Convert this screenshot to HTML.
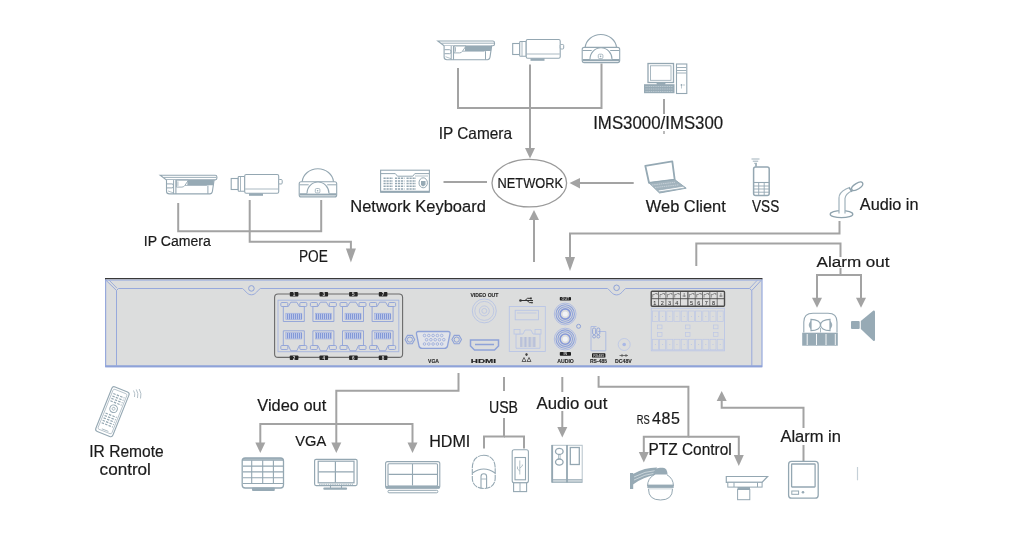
<!DOCTYPE html>
<html><head><meta charset="utf-8">
<style>
html,body{margin:0;padding:0;background:#fff;width:1010px;height:558px;overflow:hidden}
svg{display:block;position:absolute;left:0;top:0;will-change:transform}
text{font-family:"Liberation Sans",sans-serif;fill:#1a1a1a;stroke:#1a1a1a;stroke-width:0.2}
.ln{stroke:#a3a3a3;stroke-width:2;fill:none}
.ah{fill:#a3a3a3}
</style></head><body>
<svg width="1010" height="558" viewBox="0 0 1010 558">
<!-- connector lines -->
<g class="ln">
<!-- top IP cameras -->
<path d="M458 68V108H601.5V63.5"/>
<path d="M530 64.5V150"/>
<path d="M664 99V114"/><path d="M664 131V134" stroke-width="1.5"/>
<!-- keyboard to network -->
<path d="M443.5 182H487"/>
<path d="M580 183H633.7"/>
<path d="M534 218V262"/>
<!-- left IP cameras -->
<path d="M178.2 203V231.2H321.2V200"/>
<path d="M249.7 200V241.8H350.9V250"/>
<!-- audio in -->
<path d="M839.5 221V233.5H570V258"/>
<!-- alarm out -->
<path d="M696.3 266V243.5H840.5V257"/>
<path d="M840.5 268V275H817V298"/>
<path d="M840.5 275H861V298"/>
<!-- video out -->
<path d="M458.5 373V390.7H336.3V443"/>
<path d="M260.3 443V423.9H412.5V443"/>
<!-- usb -->
<path d="M504 377V391"/>
<path d="M504 418V436.4H484V448.5"/>
<path d="M504 436.4H524V448.5"/>
<!-- audio out -->
<path d="M562.3 377V392"/>
<path d="M562.3 411V428"/>
<!-- rs485 -->
<path d="M598.6 376V386.8H688.4V436.8H643.8V453"/>
<path d="M688.4 436.8H738.8V456"/>
<!-- alarm in -->
<path d="M803.5 445V461"/>
<path d="M803.5 428V407.8H721.7V400"/>
</g>
<g class="ah">
<polygon points="525,148 535,148 530,158.5"/>
<polygon points="580,178 580,188.5 569.5,183"/>
<polygon points="529,220 539,220 534,210"/>
<polygon points="345.9,248.5 355.9,248.5 350.9,262.5"/>
<polygon points="565,257 575,257 570,271"/>
<polygon points="812,297.8 822,297.8 817,307.8"/>
<polygon points="856,297.8 866,297.8 861,307.8"/>
<polygon points="255.3,442.5 265.3,442.5 260.3,453"/>
<polygon points="331.3,442.5 341.3,442.5 336.3,453"/>
<polygon points="407.5,442.5 417.5,442.5 412.5,453"/>
<polygon points="557.3,427 567.3,427 562.3,437.6"/>
<polygon points="638.8,452 648.8,452 643.8,462.5"/>
<polygon points="733.8,455 743.8,455 738.8,466"/>
<polygon points="716.7,401 726.7,401 721.7,391"/>
</g>
<ellipse cx="529.3" cy="183.1" rx="37.3" ry="23.8" fill="none" stroke="#9a9a9a" stroke-width="1.3"/>
<!-- texts -->
<g>
<text x="438.7" y="139.3" font-size="16.5" textLength="73.3" lengthAdjust="spacingAndGlyphs">IP Camera</text>
<text x="593.2" y="129" font-size="17.5" textLength="130" lengthAdjust="spacingAndGlyphs">IMS3000/IMS300</text>
<text x="497.5" y="188.4" font-size="14.8" textLength="65.5" lengthAdjust="spacingAndGlyphs">NETWORK</text>
<text x="350.3" y="211.7" font-size="16.3" textLength="135.5" lengthAdjust="spacingAndGlyphs">Network Keyboard</text>
<text x="645.8" y="211.5" font-size="16" textLength="80" lengthAdjust="spacingAndGlyphs">Web Client</text>
<text x="752" y="212.1" font-size="16" textLength="27.2" lengthAdjust="spacingAndGlyphs">VSS</text>
<text x="859.8" y="210.2" font-size="16" textLength="58.7" lengthAdjust="spacingAndGlyphs">Audio in</text>
<text x="143.8" y="245.9" font-size="14.7" textLength="67" lengthAdjust="spacingAndGlyphs">IP Camera</text>
<text x="299" y="262.3" font-size="16.5" textLength="28.9" lengthAdjust="spacingAndGlyphs">POE</text>
<text x="816.6" y="267" font-size="15.5" textLength="73" lengthAdjust="spacingAndGlyphs">Alarm out</text>
<text x="257.3" y="411.3" font-size="16" textLength="68.9" lengthAdjust="spacingAndGlyphs">Video out</text>
<text x="489" y="412.9" font-size="17" textLength="29" lengthAdjust="spacingAndGlyphs">USB</text>
<text x="536.5" y="409" font-size="16.2" textLength="70.8" lengthAdjust="spacingAndGlyphs">Audio out</text>
<text x="636.8" y="424.3" font-size="12.3" textLength="13" lengthAdjust="spacingAndGlyphs">RS</text>
<text x="652" y="424.3" font-size="16" textLength="28" lengthAdjust="spacing">485</text>
<text x="295.3" y="446.1" font-size="15.5" textLength="30.9" lengthAdjust="spacingAndGlyphs">VGA</text>
<text x="429.2" y="447.3" font-size="16.5" textLength="41.1" lengthAdjust="spacingAndGlyphs">HDMI</text>
<text x="648.5" y="455.4" font-size="17" textLength="83.2" lengthAdjust="spacingAndGlyphs">PTZ Control</text>
<text x="780.4" y="442.3" font-size="16.3" textLength="60.6" lengthAdjust="spacingAndGlyphs">Alarm in</text>
<text x="89.3" y="456.9" font-size="16.5" textLength="74.4" lengthAdjust="spacingAndGlyphs">IR Remote</text>
<text x="99.6" y="474.6" font-size="16.5" textLength="51.3" lengthAdjust="spacingAndGlyphs">control</text>
</g>
<!-- NVR box -->
<g id="nvr">
<defs><pattern id="stripes" width="1.3" height="10" patternUnits="userSpaceOnUse"><rect x="0" y="0" width="0.75" height="10" fill="#8296d4"/></pattern></defs>
<rect x="105.5" y="278.5" width="656.5" height="88" fill="#dcdddd"/>
<path d="M105.6 279V366.6H762V279" fill="none" stroke="#97a9dc" stroke-width="1.2"/>
<path d="M105.5 366.3H762" stroke="#8ea2d8" stroke-width="2"/>
<path d="M105 278.6H762.5" stroke="#383838" stroke-width="1.4"/>
<path d="M106 280.2H761.5" stroke="#a3b3e0" stroke-width="1"/>
<path d="M116.5 366V290.5L106 280.3M116.5 290.5L118.5 288.5H242.5C245 290 247 294.8 251.4 294.8C255.8 294.8 257.8 290 260.3 288.5H607.5C610 290 612 294.9 616.6 294.9C621.2 294.9 623.2 290 625.7 288.5H749.5L751.8 290.5V366M751.8 290.5L761 280.5" fill="none" stroke="#97a9dc" stroke-width="1"/>
<path d="M109.5 280.5L117 288.2M757 280.5L749.6 288.3" fill="none" stroke="#8ea2d8" stroke-width="0.8"/>
<circle cx="251.4" cy="288.4" r="2.8" fill="none" stroke="#8ea2d8" stroke-width="1"/>
<circle cx="616.6" cy="287.8" r="2.8" fill="none" stroke="#8ea2d8" stroke-width="1"/>
<rect x="274.6" y="294" width="128" height="63.4" rx="3.5" fill="none" stroke="#6a6a6a" stroke-width="1.1"/>
<rect x="278" y="300.2" width="120.8" height="51.5" fill="none" stroke="#a9b8e0" stroke-width="1"/>
<rect x="289.8" y="292.0" width="8.6" height="4.5" rx="0.8" fill="#252525"/><text x="294.1" y="296.0" font-size="4.6" text-anchor="middle" style="fill:#ddd;stroke:none;font-weight:bold">1</text>
<rect x="289.8" y="355.5" width="8.6" height="4.5" rx="0.8" fill="#252525"/><text x="294.1" y="359.5" font-size="4.6" text-anchor="middle" style="fill:#ddd;stroke:none;font-weight:bold">2</text>
<path d="M283.3 306.5V321.5H304.3V306.5 M283.3 306.5H288.3L290.8 302.2H296.8L299.3 306.5H304.3" fill="none" stroke="#8ea2d8" stroke-width="0.9"/>
<rect x="280.8" y="302.5" width="7" height="4" rx="1" fill="#dcdddd" stroke="#8ea2d8" stroke-width="0.9"/>
<rect x="299.8" y="302.5" width="7" height="4" rx="1" fill="#dcdddd" stroke="#8ea2d8" stroke-width="0.9"/>
<rect x="285.8" y="313.2" width="16.0" height="6.5" fill="#c3cdea" stroke="#97a8dc" stroke-width="0.5"/><path d="M287.5 313.7V319.2M289.5 313.7V319.2M291.5 313.7V319.2M293.5 313.7V319.2M295.5 313.7V319.2M297.5 313.7V319.2M299.5 313.7V319.2M301.5 313.7V319.2" stroke="#8398d6" stroke-width="1.1"/>
<path d="M283.3 345.5V330.8H304.3V345.5 M283.3 345.5H288.3L290.8 350.8H296.8L299.3 345.5H304.3" fill="none" stroke="#8ea2d8" stroke-width="0.9"/>
<rect x="280.8" y="345.5" width="7" height="4" rx="1" fill="#dcdddd" stroke="#8ea2d8" stroke-width="0.9"/>
<rect x="299.8" y="345.5" width="7" height="4" rx="1" fill="#dcdddd" stroke="#8ea2d8" stroke-width="0.9"/>
<rect x="285.8" y="332.5" width="16.0" height="6.5" fill="#c3cdea" stroke="#97a8dc" stroke-width="0.5"/><path d="M287.5 333.0V338.5M289.5 333.0V338.5M291.5 333.0V338.5M293.5 333.0V338.5M295.5 333.0V338.5M297.5 333.0V338.5M299.5 333.0V338.5M301.5 333.0V338.5" stroke="#8398d6" stroke-width="1.1"/>
<rect x="319.5" y="292.0" width="8.6" height="4.5" rx="0.8" fill="#252525"/><text x="323.8" y="296.0" font-size="4.6" text-anchor="middle" style="fill:#ddd;stroke:none;font-weight:bold">3</text>
<rect x="319.5" y="355.5" width="8.6" height="4.5" rx="0.8" fill="#252525"/><text x="323.8" y="359.5" font-size="4.6" text-anchor="middle" style="fill:#ddd;stroke:none;font-weight:bold">4</text>
<path d="M312.9 306.5V321.5H333.9V306.5 M312.9 306.5H317.9L320.4 302.2H326.4L328.9 306.5H333.9" fill="none" stroke="#8ea2d8" stroke-width="0.9"/>
<rect x="310.4" y="302.5" width="7" height="4" rx="1" fill="#dcdddd" stroke="#8ea2d8" stroke-width="0.9"/>
<rect x="329.4" y="302.5" width="7" height="4" rx="1" fill="#dcdddd" stroke="#8ea2d8" stroke-width="0.9"/>
<rect x="315.4" y="313.2" width="16.0" height="6.5" fill="#c3cdea" stroke="#97a8dc" stroke-width="0.5"/><path d="M316.5 313.7V319.2M318.5 313.7V319.2M320.5 313.7V319.2M322.5 313.7V319.2M324.5 313.7V319.2M326.5 313.7V319.2M328.5 313.7V319.2M330.5 313.7V319.2" stroke="#8398d6" stroke-width="1.1"/>
<path d="M312.9 345.5V330.8H333.9V345.5 M312.9 345.5H317.9L320.4 350.8H326.4L328.9 345.5H333.9" fill="none" stroke="#8ea2d8" stroke-width="0.9"/>
<rect x="310.4" y="345.5" width="7" height="4" rx="1" fill="#dcdddd" stroke="#8ea2d8" stroke-width="0.9"/>
<rect x="329.4" y="345.5" width="7" height="4" rx="1" fill="#dcdddd" stroke="#8ea2d8" stroke-width="0.9"/>
<rect x="315.4" y="332.5" width="16.0" height="6.5" fill="#c3cdea" stroke="#97a8dc" stroke-width="0.5"/><path d="M316.5 333.0V338.5M318.5 333.0V338.5M320.5 333.0V338.5M322.5 333.0V338.5M324.5 333.0V338.5M326.5 333.0V338.5M328.5 333.0V338.5M330.5 333.0V338.5" stroke="#8398d6" stroke-width="1.1"/>
<rect x="349.1" y="292.0" width="8.6" height="4.5" rx="0.8" fill="#252525"/><text x="353.4" y="296.0" font-size="4.6" text-anchor="middle" style="fill:#ddd;stroke:none;font-weight:bold">5</text>
<rect x="349.1" y="355.5" width="8.6" height="4.5" rx="0.8" fill="#252525"/><text x="353.4" y="359.5" font-size="4.6" text-anchor="middle" style="fill:#ddd;stroke:none;font-weight:bold">6</text>
<path d="M342.5 306.5V321.5H363.5V306.5 M342.5 306.5H347.5L350.0 302.2H356.0L358.5 306.5H363.5" fill="none" stroke="#8ea2d8" stroke-width="0.9"/>
<rect x="340.0" y="302.5" width="7" height="4" rx="1" fill="#dcdddd" stroke="#8ea2d8" stroke-width="0.9"/>
<rect x="359.0" y="302.5" width="7" height="4" rx="1" fill="#dcdddd" stroke="#8ea2d8" stroke-width="0.9"/>
<rect x="345.0" y="313.2" width="16.0" height="6.5" fill="#c3cdea" stroke="#97a8dc" stroke-width="0.5"/><path d="M346.5 313.7V319.2M348.5 313.7V319.2M350.5 313.7V319.2M352.5 313.7V319.2M354.5 313.7V319.2M356.5 313.7V319.2M358.5 313.7V319.2M360.5 313.7V319.2" stroke="#8398d6" stroke-width="1.1"/>
<path d="M342.5 345.5V330.8H363.5V345.5 M342.5 345.5H347.5L350.0 350.8H356.0L358.5 345.5H363.5" fill="none" stroke="#8ea2d8" stroke-width="0.9"/>
<rect x="340.0" y="345.5" width="7" height="4" rx="1" fill="#dcdddd" stroke="#8ea2d8" stroke-width="0.9"/>
<rect x="359.0" y="345.5" width="7" height="4" rx="1" fill="#dcdddd" stroke="#8ea2d8" stroke-width="0.9"/>
<rect x="345.0" y="332.5" width="16.0" height="6.5" fill="#c3cdea" stroke="#97a8dc" stroke-width="0.5"/><path d="M346.5 333.0V338.5M348.5 333.0V338.5M350.5 333.0V338.5M352.5 333.0V338.5M354.5 333.0V338.5M356.5 333.0V338.5M358.5 333.0V338.5M360.5 333.0V338.5" stroke="#8398d6" stroke-width="1.1"/>
<rect x="378.8" y="292.0" width="8.6" height="4.5" rx="0.8" fill="#252525"/><text x="383.1" y="296.0" font-size="4.6" text-anchor="middle" style="fill:#ddd;stroke:none;font-weight:bold">7</text>
<rect x="378.8" y="355.5" width="8.6" height="4.5" rx="0.8" fill="#252525"/><text x="383.1" y="359.5" font-size="4.6" text-anchor="middle" style="fill:#ddd;stroke:none;font-weight:bold">8</text>
<path d="M372.1 306.5V321.5H393.1V306.5 M372.1 306.5H377.1L379.6 302.2H385.6L388.1 306.5H393.1" fill="none" stroke="#8ea2d8" stroke-width="0.9"/>
<rect x="369.6" y="302.5" width="7" height="4" rx="1" fill="#dcdddd" stroke="#8ea2d8" stroke-width="0.9"/>
<rect x="388.6" y="302.5" width="7" height="4" rx="1" fill="#dcdddd" stroke="#8ea2d8" stroke-width="0.9"/>
<rect x="374.6" y="313.2" width="16.0" height="6.5" fill="#c3cdea" stroke="#97a8dc" stroke-width="0.5"/><path d="M376.5 313.7V319.2M378.5 313.7V319.2M380.5 313.7V319.2M382.5 313.7V319.2M384.5 313.7V319.2M386.5 313.7V319.2M388.5 313.7V319.2M390.5 313.7V319.2" stroke="#8398d6" stroke-width="1.1"/>
<path d="M372.1 345.5V330.8H393.1V345.5 M372.1 345.5H377.1L379.6 350.8H385.6L388.1 345.5H393.1" fill="none" stroke="#8ea2d8" stroke-width="0.9"/>
<rect x="369.6" y="345.5" width="7" height="4" rx="1" fill="#dcdddd" stroke="#8ea2d8" stroke-width="0.9"/>
<rect x="388.6" y="345.5" width="7" height="4" rx="1" fill="#dcdddd" stroke="#8ea2d8" stroke-width="0.9"/>
<rect x="374.6" y="332.5" width="16.0" height="6.5" fill="#c3cdea" stroke="#97a8dc" stroke-width="0.5"/><path d="M376.5 333.0V338.5M378.5 333.0V338.5M380.5 333.0V338.5M382.5 333.0V338.5M384.5 333.0V338.5M386.5 333.0V338.5M388.5 333.0V338.5M390.5 333.0V338.5" stroke="#8398d6" stroke-width="1.1"/>
<path d="M418.5 331.5H448Q450.5 331.5 450 334L447.5 346Q447 348.3 444.5 348.3H422Q419.5 348.3 419 346L416.5 334Q416 331.5 418.5 331.5Z" fill="#e2e4ea" stroke="#8ea2d8" stroke-width="1.3"/>
<circle cx="424.5" cy="335.5" r="1.3" fill="none" stroke="#8ea2d8" stroke-width="0.7"/>
<circle cx="424.5" cy="344" r="1.3" fill="none" stroke="#8ea2d8" stroke-width="0.7"/>
<circle cx="428.8" cy="335.5" r="1.3" fill="none" stroke="#8ea2d8" stroke-width="0.7"/>
<circle cx="428.8" cy="344" r="1.3" fill="none" stroke="#8ea2d8" stroke-width="0.7"/>
<circle cx="433.1" cy="335.5" r="1.3" fill="none" stroke="#8ea2d8" stroke-width="0.7"/>
<circle cx="433.1" cy="344" r="1.3" fill="none" stroke="#8ea2d8" stroke-width="0.7"/>
<circle cx="437.4" cy="335.5" r="1.3" fill="none" stroke="#8ea2d8" stroke-width="0.7"/>
<circle cx="437.4" cy="344" r="1.3" fill="none" stroke="#8ea2d8" stroke-width="0.7"/>
<circle cx="441.7" cy="335.5" r="1.3" fill="none" stroke="#8ea2d8" stroke-width="0.7"/>
<circle cx="441.7" cy="344" r="1.3" fill="none" stroke="#8ea2d8" stroke-width="0.7"/>
<circle cx="426.6" cy="339.7" r="1.3" fill="none" stroke="#8ea2d8" stroke-width="0.7"/>
<circle cx="430.9" cy="339.7" r="1.3" fill="none" stroke="#8ea2d8" stroke-width="0.7"/>
<circle cx="435.2" cy="339.7" r="1.3" fill="none" stroke="#8ea2d8" stroke-width="0.7"/>
<circle cx="439.5" cy="339.7" r="1.3" fill="none" stroke="#8ea2d8" stroke-width="0.7"/>
<circle cx="443.8" cy="339.7" r="1.3" fill="none" stroke="#8ea2d8" stroke-width="0.7"/>
<path d="M405.1 339.6L407.5 335.4H412.3L414.7 339.6L412.3 343.8H407.5Z" fill="none" stroke="#8ea2d8" stroke-width="1.1"/>
<circle cx="409.9" cy="339.6" r="2.6" fill="none" stroke="#8ea2d8" stroke-width="1"/>
<path d="M451.9 339.6L454.3 335.4H459.1L461.5 339.6L459.1 343.8H454.3Z" fill="none" stroke="#8ea2d8" stroke-width="1.1"/>
<circle cx="456.7" cy="339.6" r="2.6" fill="none" stroke="#8ea2d8" stroke-width="1"/>
<text x="428" y="362.5" font-size="5.5" font-weight="bold" textLength="11" lengthAdjust="spacingAndGlyphs" style="fill:#2a2a2a;stroke-width:0.12">VGA</text>
<text x="470.4" y="297" font-size="5.8" font-weight="bold" textLength="28" lengthAdjust="spacingAndGlyphs" style="fill:#2a2a2a;stroke-width:0.12">VIDEO OUT</text>
<circle cx="484.3" cy="310.9" r="12" fill="none" stroke="#b3c0e4" stroke-width="0.8"/>
<circle cx="484.3" cy="310.9" r="9.5" fill="none" stroke="#b3c0e4" stroke-width="0.7"/>
<circle cx="484.3" cy="310.9" r="5" fill="none" stroke="#b3c0e4" stroke-width="0.7"/>
<circle cx="484.3" cy="310.9" r="2.5" fill="none" stroke="#b3c0e4" stroke-width="0.7"/>
<path d="M470.5 340H498.5V346L494.5 350H474.5L470.5 346Z" fill="none" stroke="#8ea2d8" stroke-width="1.5"/>
<path d="M475 344.5H494" stroke="#8ea2d8" stroke-width="1.5"/>
<text x="470.8" y="362.6" font-size="6" font-weight="bold" textLength="25.2" lengthAdjust="spacingAndGlyphs" style="fill:#222;stroke-width:0.15">HDMI</text>
<rect x="509.3" y="306.5" width="36" height="45" fill="none" stroke="#b9c5e6" stroke-width="0.9"/>
<rect x="515.2" y="310.3" width="23.2" height="9.5" fill="none" stroke="#b9c5e6" stroke-width="0.9"/>
<path d="M517 313H536.5" stroke="#b9c5e6" stroke-width="0.8"/>
<path d="M516 334V348.3H540V334M516 334H523L525 330H531L533 334H540" fill="none" stroke="#b9c5e6" stroke-width="0.9"/>
<rect x="514" y="329.5" width="6" height="4.5" fill="#dcdddd" stroke="#b9c5e6" stroke-width="0.8"/>
<rect x="535" y="329.5" width="6" height="4.5" fill="#dcdddd" stroke="#b9c5e6" stroke-width="0.8"/>
<rect x="520" y="337" width="16" height="10" fill="url(#stripes)" opacity="0.45"/>
<path d="M521 300.5H533M525 300.5L527.5 298.3H530M527 300.5L529.5 302.6H531.5" fill="none" stroke="#333" stroke-width="1"/><circle cx="520.5" cy="300.5" r="1.3" fill="#333"/><rect x="530" y="297.5" width="1.8" height="1.8" fill="#333"/><circle cx="532" cy="302.6" r="0.9" fill="#333"/><path d="M526.5 353.5V356M522 361.5L524 357.5L526 361.5ZM527 361.5L529 357.5L531 361.5Z" fill="none" stroke="#444" stroke-width="0.8"/>
<circle cx="526.5" cy="354.5" r="1.2" fill="#444"/>
<circle cx="565.2" cy="314" r="10.9" fill="none" stroke="#a5b4e2" stroke-width="0.8"/><circle cx="565.2" cy="314" r="9.2" fill="none" stroke="#8ea2da" stroke-width="1.1"/><circle cx="565.2" cy="314" r="7.3" fill="none" stroke="#8ea2da" stroke-width="1.1"/><circle cx="565.2" cy="314" r="5.1" fill="none" stroke="#8598d8" stroke-width="1.6"/><circle cx="565.2" cy="314" r="2.6" fill="#f2f3f7"/><circle cx="565.2" cy="339.1" r="10.9" fill="none" stroke="#a5b4e2" stroke-width="0.8"/><circle cx="565.2" cy="339.1" r="9.2" fill="none" stroke="#8ea2da" stroke-width="1.1"/><circle cx="565.2" cy="339.1" r="7.3" fill="none" stroke="#8ea2da" stroke-width="1.1"/><circle cx="565.2" cy="339.1" r="5.1" fill="none" stroke="#8598d8" stroke-width="1.6"/><circle cx="565.2" cy="339.1" r="2.6" fill="#f2f3f7"/><rect x="559.8" y="297" width="11.2" height="3.6" rx="0.8" fill="#1e1e1e"/><text x="565.4" y="300.2" font-size="3.6" text-anchor="middle" style="fill:#ccc;stroke:none;font-weight:bold">OUT</text>
<rect x="559.8" y="352" width="11.2" height="3.8" rx="0.8" fill="#1e1e1e"/><text x="565.4" y="355.3" font-size="3.6" text-anchor="middle" style="fill:#ccc;stroke:none;font-weight:bold">IN</text>
<text x="557.2" y="362.6" font-size="5.6" font-weight="bold" textLength="16.7" lengthAdjust="spacingAndGlyphs" style="fill:#2a2a2a;stroke-width:0.12">AUDIO</text>
<circle cx="578.6" cy="326.3" r="2" fill="none" stroke="#8ea2d8" stroke-width="1"/>
<path d="M591 350.8V326.5H596.5M591 350.8H605.8V331.5H598" fill="none" stroke="#a9b8e0" stroke-width="0.9"/>
<rect x="592.6" y="328" width="3" height="6.5" rx="1.3" fill="none" stroke="#8ea2d8" stroke-width="0.9"/>
<rect x="596.8" y="328" width="3" height="6.5" rx="1.3" fill="none" stroke="#8ea2d8" stroke-width="0.9"/>
<circle cx="594.1" cy="336.5" r="1.5" fill="none" stroke="#8ea2d8" stroke-width="0.9"/>
<circle cx="598.3" cy="336.5" r="1.5" fill="none" stroke="#8ea2d8" stroke-width="0.9"/>
<rect x="592" y="353.3" width="13.4" height="4.2" rx="0.6" fill="#1e1e1e"/><text x="598.7" y="356.7" font-size="3.6" text-anchor="middle" style="fill:#bbb;stroke:none;font-weight:bold">RS485</text>
<text x="590" y="362.6" font-size="5.6" font-weight="bold" textLength="17" lengthAdjust="spacingAndGlyphs" style="fill:#2a2a2a;stroke-width:0.12">RS-485</text>
<circle cx="624.2" cy="344.5" r="6" fill="none" stroke="#c0cae6" stroke-width="1"/>
<circle cx="624.2" cy="344.5" r="1.8" fill="#a9b8e6"/>
<text x="615" y="362.6" font-size="5.6" font-weight="bold" textLength="16.8" lengthAdjust="spacingAndGlyphs" style="fill:#2a2a2a;stroke-width:0.12">DC48V</text>
<path d="M619.5 355.5H628M622 354V357M626 354V357" stroke="#444" stroke-width="0.7"/>
<rect x="651.2" y="291.2" width="73.3" height="15" rx="1" fill="#dedede" stroke="#4a4a4a" stroke-width="1.4"/>
<path d="M651.2 298.7H724.5" stroke="#4a4a4a" stroke-width="0.9"/>
<path d="M658.5 291.2V306.2" stroke="#4a4a4a" stroke-width="0.7"/>
<path d="M665.9 291.2V306.2" stroke="#4a4a4a" stroke-width="0.7"/>
<path d="M673.2 291.2V306.2" stroke="#4a4a4a" stroke-width="0.7"/>
<path d="M680.5 291.2V306.2" stroke="#4a4a4a" stroke-width="0.7"/>
<path d="M687.9 291.2V306.2" stroke="#4a4a4a" stroke-width="1.1"/>
<path d="M695.2 291.2V306.2" stroke="#4a4a4a" stroke-width="0.7"/>
<path d="M702.5 291.2V306.2" stroke="#4a4a4a" stroke-width="0.7"/>
<path d="M709.8 291.2V306.2" stroke="#4a4a4a" stroke-width="0.7"/>
<path d="M717.2 291.2V306.2" stroke="#4a4a4a" stroke-width="0.7"/>
<text x="654.9" y="305.2" font-size="5.5" text-anchor="middle" style="fill:#333;stroke-width:0.05">1</text>
<text x="662.2" y="305.2" font-size="5.5" text-anchor="middle" style="fill:#333;stroke-width:0.05">2</text>
<text x="669.5" y="305.2" font-size="5.5" text-anchor="middle" style="fill:#333;stroke-width:0.05">3</text>
<text x="676.9" y="305.2" font-size="5.5" text-anchor="middle" style="fill:#333;stroke-width:0.05">4</text>
<text x="684.2" y="305.2" font-size="5.5" text-anchor="middle" style="fill:#333;stroke-width:0.05"></text>
<text x="691.5" y="305.2" font-size="5.5" text-anchor="middle" style="fill:#333;stroke-width:0.05">5</text>
<text x="698.8" y="305.2" font-size="5.5" text-anchor="middle" style="fill:#333;stroke-width:0.05">6</text>
<text x="706.2" y="305.2" font-size="5.5" text-anchor="middle" style="fill:#333;stroke-width:0.05">7</text>
<text x="713.5" y="305.2" font-size="5.5" text-anchor="middle" style="fill:#333;stroke-width:0.05">8</text>
<text x="720.8" y="305.2" font-size="5.5" text-anchor="middle" style="fill:#333;stroke-width:0.05"></text>
<path d="M652.7 297.5V294.5H654.2L655.7 293.5H657.2V295" fill="none" stroke="#555" stroke-width="0.6"/>
<path d="M660.0 297.5V294.5H661.5L663.0 293.5H664.5V295" fill="none" stroke="#555" stroke-width="0.6"/>
<path d="M667.4 297.5V294.5H668.9L670.4 293.5H671.9V295" fill="none" stroke="#555" stroke-width="0.6"/>
<path d="M674.7 297.5V294.5H676.2L677.7 293.5H679.2V295" fill="none" stroke="#555" stroke-width="0.6"/>
<path d="M684.2 293V297M682.5 296H685.9" stroke="#555" stroke-width="0.6"/>
<path d="M689.4 297.5V294.5H690.9L692.4 293.5H693.9V295" fill="none" stroke="#555" stroke-width="0.6"/>
<path d="M696.7 297.5V294.5H698.2L699.7 293.5H701.2V295" fill="none" stroke="#555" stroke-width="0.6"/>
<path d="M704.0 297.5V294.5H705.5L707.0 293.5H708.5V295" fill="none" stroke="#555" stroke-width="0.6"/>
<path d="M711.3 297.5V294.5H712.8L714.3 293.5H715.8V295" fill="none" stroke="#555" stroke-width="0.6"/>
<path d="M720.9 293V297M719.2 296H722.6" stroke="#555" stroke-width="0.6"/>
<rect x="651.3" y="308.3" width="73.2" height="42.5" fill="none" stroke="#bcc7e6" stroke-width="0.9"/>
<rect x="652.4" y="311" width="6" height="10.5" fill="none" stroke="#bcc7e6" stroke-width="0.7"/>
<rect x="652.4" y="339.3" width="6" height="10.5" fill="none" stroke="#bcc7e6" stroke-width="0.7"/>
<circle cx="655.4" cy="316.5" r="0.6" fill="#bcc7e6"/>
<circle cx="655.4" cy="344.5" r="0.6" fill="#bcc7e6"/>
<rect x="659.6" y="311" width="6" height="10.5" fill="none" stroke="#bcc7e6" stroke-width="0.7"/>
<rect x="659.6" y="339.3" width="6" height="10.5" fill="none" stroke="#bcc7e6" stroke-width="0.7"/>
<circle cx="662.6" cy="316.5" r="0.6" fill="#bcc7e6"/>
<circle cx="662.6" cy="344.5" r="0.6" fill="#bcc7e6"/>
<rect x="666.8" y="311" width="6" height="10.5" fill="none" stroke="#bcc7e6" stroke-width="0.7"/>
<rect x="666.8" y="339.3" width="6" height="10.5" fill="none" stroke="#bcc7e6" stroke-width="0.7"/>
<circle cx="669.8" cy="316.5" r="0.6" fill="#bcc7e6"/>
<circle cx="669.8" cy="344.5" r="0.6" fill="#bcc7e6"/>
<rect x="674.0" y="311" width="6" height="10.5" fill="none" stroke="#bcc7e6" stroke-width="0.7"/>
<rect x="674.0" y="339.3" width="6" height="10.5" fill="none" stroke="#bcc7e6" stroke-width="0.7"/>
<circle cx="677.0" cy="316.5" r="0.6" fill="#bcc7e6"/>
<circle cx="677.0" cy="344.5" r="0.6" fill="#bcc7e6"/>
<rect x="681.2" y="311" width="6" height="10.5" fill="none" stroke="#bcc7e6" stroke-width="0.7"/>
<rect x="681.2" y="339.3" width="6" height="10.5" fill="none" stroke="#bcc7e6" stroke-width="0.7"/>
<circle cx="684.2" cy="316.5" r="0.6" fill="#bcc7e6"/>
<circle cx="684.2" cy="344.5" r="0.6" fill="#bcc7e6"/>
<rect x="688.4" y="311" width="6" height="10.5" fill="none" stroke="#bcc7e6" stroke-width="0.7"/>
<rect x="688.4" y="339.3" width="6" height="10.5" fill="none" stroke="#bcc7e6" stroke-width="0.7"/>
<circle cx="691.4" cy="316.5" r="0.6" fill="#bcc7e6"/>
<circle cx="691.4" cy="344.5" r="0.6" fill="#bcc7e6"/>
<rect x="695.6" y="311" width="6" height="10.5" fill="none" stroke="#bcc7e6" stroke-width="0.7"/>
<rect x="695.6" y="339.3" width="6" height="10.5" fill="none" stroke="#bcc7e6" stroke-width="0.7"/>
<circle cx="698.6" cy="316.5" r="0.6" fill="#bcc7e6"/>
<circle cx="698.6" cy="344.5" r="0.6" fill="#bcc7e6"/>
<rect x="702.8" y="311" width="6" height="10.5" fill="none" stroke="#bcc7e6" stroke-width="0.7"/>
<rect x="702.8" y="339.3" width="6" height="10.5" fill="none" stroke="#bcc7e6" stroke-width="0.7"/>
<circle cx="705.8" cy="316.5" r="0.6" fill="#bcc7e6"/>
<circle cx="705.8" cy="344.5" r="0.6" fill="#bcc7e6"/>
<rect x="710.0" y="311" width="6" height="10.5" fill="none" stroke="#bcc7e6" stroke-width="0.7"/>
<rect x="710.0" y="339.3" width="6" height="10.5" fill="none" stroke="#bcc7e6" stroke-width="0.7"/>
<circle cx="713.0" cy="316.5" r="0.6" fill="#bcc7e6"/>
<circle cx="713.0" cy="344.5" r="0.6" fill="#bcc7e6"/>
<rect x="717.2" y="311" width="6" height="10.5" fill="none" stroke="#bcc7e6" stroke-width="0.7"/>
<rect x="717.2" y="339.3" width="6" height="10.5" fill="none" stroke="#bcc7e6" stroke-width="0.7"/>
<circle cx="720.2" cy="316.5" r="0.6" fill="#bcc7e6"/>
<circle cx="720.2" cy="344.5" r="0.6" fill="#bcc7e6"/>
<rect x="657.5" y="325" width="4.5" height="3.8" fill="none" stroke="#bcc7e6" stroke-width="0.7"/>
<rect x="657.5" y="332.5" width="4.5" height="3.8" fill="none" stroke="#bcc7e6" stroke-width="0.7"/>
<rect x="685.5" y="325" width="4.5" height="3.8" fill="none" stroke="#bcc7e6" stroke-width="0.7"/>
<rect x="685.5" y="332.5" width="4.5" height="3.8" fill="none" stroke="#bcc7e6" stroke-width="0.7"/>
<rect x="713.5" y="325" width="4.5" height="3.8" fill="none" stroke="#bcc7e6" stroke-width="0.7"/>
<rect x="713.5" y="332.5" width="4.5" height="3.8" fill="none" stroke="#bcc7e6" stroke-width="0.7"/>
</g>
<g id="icons">
<g transform="translate(437.5,40.7)"><path d="M0.3 0.3H55.3Q57 0.3 57 2.2V3.2Q57 5 55.3 5H6.5Z" fill="#fff" stroke="#94a7b2" stroke-width="1.1"/><path d="M3.8 2.5H56.5" stroke="#94a7b2" stroke-width="0.9"/><path d="M6.6 5V16.3Q6.6 19 9.5 19H50Q52 19 52.5 16.5L54.2 5" fill="#fff" stroke="#94a7b2" stroke-width="1.1"/><path d="M27.5 5.2H54L53.6 10.3H27.5Z" fill="#97aab5"/><path d="M16.5 5.3H28.5L25 10.5Q24 12.2 22 12.2H16.5Z" fill="#fff" stroke="#94a7b2" stroke-width="0.9"/><path d="M16 5.2V19" stroke="#94a7b2" stroke-width="1.1"/><path d="M18 6.5V11" stroke="#94a7b2" stroke-width="0.8"/><path d="M25 10.5H47" stroke="#94a7b2" stroke-width="0.8"/><path d="M7 9H12Q13.5 9 13.5 10.5V11.5Q13.5 13 12 13H7" fill="none" stroke="#94a7b2" stroke-width="1"/><path d="M13.7 5.2V19M48 10.5V19" stroke="#94a7b2" stroke-width="1"/><path d="M8 16L13.5 18" stroke="#94a7b2" stroke-width="0.7"/></g>
<g transform="translate(159.9,174.9)"><path d="M0.3 0.3H55.3Q57 0.3 57 2.2V3.2Q57 5 55.3 5H6.5Z" fill="#fff" stroke="#94a7b2" stroke-width="1.1"/><path d="M3.8 2.5H56.5" stroke="#94a7b2" stroke-width="0.9"/><path d="M6.6 5V16.3Q6.6 19 9.5 19H50Q52 19 52.5 16.5L54.2 5" fill="#fff" stroke="#94a7b2" stroke-width="1.1"/><path d="M27.5 5.2H54L53.6 10.3H27.5Z" fill="#97aab5"/><path d="M16.5 5.3H28.5L25 10.5Q24 12.2 22 12.2H16.5Z" fill="#fff" stroke="#94a7b2" stroke-width="0.9"/><path d="M16 5.2V19" stroke="#94a7b2" stroke-width="1.1"/><path d="M18 6.5V11" stroke="#94a7b2" stroke-width="0.8"/><path d="M25 10.5H47" stroke="#94a7b2" stroke-width="0.8"/><path d="M7 9H12Q13.5 9 13.5 10.5V11.5Q13.5 13 12 13H7" fill="none" stroke="#94a7b2" stroke-width="1"/><path d="M13.7 5.2V19M48 10.5V19" stroke="#94a7b2" stroke-width="1"/><path d="M8 16L13.5 18" stroke="#94a7b2" stroke-width="0.7"/></g>
<g transform="translate(512.2,39)"><rect x="0.5" y="4.5" width="7" height="11" fill="#fff" stroke="#94a7b2" stroke-width="1.1"/><rect x="7.5" y="2.5" width="6.5" height="14.8" rx="0.8" fill="#fff" stroke="#94a7b2" stroke-width="1.1"/><rect x="14" y="0.5" width="34" height="18.8" rx="1.5" fill="#fff" stroke="#94a7b2" stroke-width="1.1"/><path d="M14.5 15H47.5M9.8 3V17" stroke="#94a7b2" stroke-width="0.8"/><rect x="48" y="5.5" width="3.5" height="4.5" rx="1" fill="#fff" stroke="#94a7b2" stroke-width="1"/><rect x="18.3" y="19.3" width="14" height="2.5" fill="#97aab5"/></g>
<g transform="translate(230.7,174)"><rect x="0.5" y="4.5" width="7" height="11" fill="#fff" stroke="#94a7b2" stroke-width="1.1"/><rect x="7.5" y="2.5" width="6.5" height="14.8" rx="0.8" fill="#fff" stroke="#94a7b2" stroke-width="1.1"/><rect x="14" y="0.5" width="34" height="18.8" rx="1.5" fill="#fff" stroke="#94a7b2" stroke-width="1.1"/><path d="M14.5 15H47.5M9.8 3V17" stroke="#94a7b2" stroke-width="0.8"/><rect x="48" y="5.5" width="3.5" height="4.5" rx="1" fill="#fff" stroke="#94a7b2" stroke-width="1"/><rect x="18.3" y="19.3" width="14" height="2.5" fill="#97aab5"/></g>
<g transform="translate(581.7,33.2)"><path d="M3.5 14.2A15.7 14 0 0 1 34.8 14.2" fill="#fff" stroke="#94a7b2" stroke-width="1.1"/><rect x="0.5" y="14.2" width="37.5" height="15.2" rx="2" fill="#fff" stroke="#94a7b2" stroke-width="1.1"/><path d="M0.8 17.3H10M28.5 17.3H37.8" stroke="#94a7b2" stroke-width="1"/><path d="M0.8 26.9H37.8" stroke="#94a7b2" stroke-width="2.2"/><path d="M8.3 26A11 11.5 0 0 1 30.3 26" fill="#fff" stroke="#94a7b2" stroke-width="1.1"/><rect x="16.6" y="21" width="4.6" height="4.4" rx="1.2" fill="none" stroke="#94a7b2" stroke-width="0.8"/><circle cx="18.9" cy="23.2" r="0.8" fill="#94a7b2"/></g>
<g transform="translate(298.7,167.5)"><path d="M3.5 14.2A15.7 14 0 0 1 34.8 14.2" fill="#fff" stroke="#94a7b2" stroke-width="1.1"/><rect x="0.5" y="14.2" width="37.5" height="15.2" rx="2" fill="#fff" stroke="#94a7b2" stroke-width="1.1"/><path d="M0.8 17.3H10M28.5 17.3H37.8" stroke="#94a7b2" stroke-width="1"/><path d="M0.8 26.9H37.8" stroke="#94a7b2" stroke-width="2.2"/><path d="M8.3 26A11 11.5 0 0 1 30.3 26" fill="#fff" stroke="#94a7b2" stroke-width="1.1"/><rect x="16.6" y="21" width="4.6" height="4.4" rx="1.2" fill="none" stroke="#94a7b2" stroke-width="0.8"/><circle cx="18.9" cy="23.2" r="0.8" fill="#94a7b2"/></g>
<rect x="648" y="63.5" width="25.5" height="19" fill="#fff" stroke="#94a7b2" stroke-width="1.3"/>
<rect x="650.5" y="65.8" width="20.5" height="14.5" fill="#fff" stroke="#94a7b2" stroke-width="0.8"/>
<path d="M657 82.5V84.5H665V82.5" fill="#97aab5" stroke="#94a7b2" stroke-width="0.8"/>
<rect x="676.5" y="64" width="10.3" height="29.5" fill="#fff" stroke="#94a7b2" stroke-width="1.1"/>
<path d="M677 67.5H686.3M677 70.5H686.3M677 73H686.3" stroke="#94a7b2" stroke-width="0.9"/>
<circle cx="681.5" cy="85" r="0.9" fill="#94a7b2"/><path d="M681.5 86V88.5M683 85H685" stroke="#94a7b2" stroke-width="0.6"/>
<rect x="644" y="84.2" width="30.5" height="9" fill="#97aab5"/>
<path d="M645.5 86.5H673M645.5 89H673M645.5 91.5H673" stroke="#d5dde2" stroke-width="0.6" stroke-dasharray="1.2 0.6"/>
<rect x="380.6" y="170.2" width="48.8" height="22" fill="#fff" stroke="#94a7b2" stroke-width="1.1"/>
<path d="M380.8 173.6H395.3L397.5 176.2H412.8L414.8 173.6H429.2" fill="none" stroke="#94a7b2" stroke-width="1"/>
<path d="M380.8 191.6H429.2" stroke="#94a7b2" stroke-width="1.8"/>
<path d="M415 176H428" stroke="#94a7b2" stroke-width="0.7"/>
<path d="M383.5 178.2H393.0" stroke="#94a7b2" stroke-width="1.5" stroke-dasharray="2.2 0.8"/>
<path d="M383.5 180.9H393.0" stroke="#94a7b2" stroke-width="1.5" stroke-dasharray="2.2 0.8"/>
<path d="M383.5 183.6H393.0" stroke="#94a7b2" stroke-width="1.5" stroke-dasharray="2.2 0.8"/>
<path d="M383.5 186.3H393.0" stroke="#94a7b2" stroke-width="1.5" stroke-dasharray="2.2 0.8"/>
<path d="M383.5 189.0H393.0" stroke="#94a7b2" stroke-width="1.5" stroke-dasharray="2.2 0.8"/>
<path d="M395 178.2H404.5" stroke="#94a7b2" stroke-width="1.5" stroke-dasharray="2.2 0.8"/>
<path d="M395 180.9H404.5" stroke="#94a7b2" stroke-width="1.5" stroke-dasharray="2.2 0.8"/>
<path d="M395 183.6H404.5" stroke="#94a7b2" stroke-width="1.5" stroke-dasharray="2.2 0.8"/>
<path d="M395 186.3H404.5" stroke="#94a7b2" stroke-width="1.5" stroke-dasharray="2.2 0.8"/>
<path d="M395 189.0H404.5" stroke="#94a7b2" stroke-width="1.5" stroke-dasharray="2.2 0.8"/>
<path d="M406.5 178.2H416.0" stroke="#94a7b2" stroke-width="1.5" stroke-dasharray="2.2 0.8"/>
<path d="M406.5 180.9H416.0" stroke="#94a7b2" stroke-width="1.5" stroke-dasharray="2.2 0.8"/>
<path d="M406.5 183.6H416.0" stroke="#94a7b2" stroke-width="1.5" stroke-dasharray="2.2 0.8"/>
<path d="M406.5 186.3H416.0" stroke="#94a7b2" stroke-width="1.5" stroke-dasharray="2.2 0.8"/>
<path d="M406.5 189.0H416.0" stroke="#94a7b2" stroke-width="1.5" stroke-dasharray="2.2 0.8"/>
<ellipse cx="423.2" cy="182.8" rx="4.2" ry="5" fill="none" stroke="#94a7b2" stroke-width="1"/>
<path d="M421 181H425.5V185L423 186.5L421 185Z" fill="#97aab5"/>
<path d="M645.3 165.8L672.3 161.3L674.7 179.6L649 182.8Z" fill="#fff" stroke="#95a9b4" stroke-width="1.8" stroke-linejoin="round"/>
<path d="M649 182.8L674.7 179.6L686.2 188.2L659.5 193Z" fill="#a2b3bd" stroke="#95a9b4" stroke-width="1" stroke-linejoin="round"/>
<path d="M652 185L675 182.3M655 187.5L679 184.8" stroke="#d5dde2" stroke-width="0.7" stroke-dasharray="1.5 0.7"/>
<path d="M657.8 190.2L683 186.3L685 188L659.5 191.8Z" fill="#fff" stroke="#95a9b4" stroke-width="0.7"/>
<path d="M751.5 159H759.5M752.8 161.2H758.2M754.2 163.3H757" stroke="#94a7b2" stroke-width="0.9"/>
<path d="M756 163.5V166.8" stroke="#94a7b2" stroke-width="1.6"/>
<rect x="753.6" y="167" width="15.6" height="28.5" rx="2" fill="#fff" stroke="#94a7b2" stroke-width="1.5"/>
<path d="M754 182.5H769" stroke="#94a7b2" stroke-width="1.1"/>
<path d="M754 186H769M754 189H769M754 192.2H769M758.7 183V195M764.2 183V195" stroke="#94a7b2" stroke-width="0.9"/>
<ellipse cx="841.5" cy="214.2" rx="11.3" ry="3.5" fill="#fff" stroke="#8ea2ad" stroke-width="1.3"/>
<path d="M839 213.5V198Q839 192.5 846 189L849.5 187.5L851.5 191Q845.5 194 845 198.5V213.5" fill="#fff" stroke="#9fb1bb" stroke-width="1.2"/>
<ellipse cx="857.2" cy="186.3" rx="6.3" ry="2.9" transform="rotate(-32 857.2 186.3)" fill="#fff" stroke="#8ea2ad" stroke-width="1.3"/>
<path d="M849 187.8L852.2 192" stroke="#8ea2ad" stroke-width="1.2"/>
<path d="M803.8 332.5V322Q803.8 313.3 813 313.3H828Q837 313.3 837 322V332.5" fill="#fff" stroke="#94a7b2" stroke-width="1.1"/>
<rect x="802.2" y="332.7" width="35.6" height="13" fill="#97aab5"/>
<path d="M807.2 334V345M816.5 334V345M826 334V345M835.3 334V345" stroke="#fff" stroke-width="0.9"/>
<path d="M811 319.3C817 319.3 820.5 322 820.5 325C820.5 328 817 330.7 811 330.7Z" fill="#fff" stroke="#94a7b2" stroke-width="1.2"/>
<path d="M830 319.3C824 319.3 820.5 322 820.5 325C820.5 328 824 330.7 830 330.7Z" fill="#fff" stroke="#94a7b2" stroke-width="1.2"/>
<path d="M810.5 321.5Q807.8 325 810.5 328.5ZM830.5 321.5Q833.2 325 830.5 328.5Z" fill="#97aab5" stroke="#94a7b2" stroke-width="0.8"/>
<path d="M820.5 328V332.5" stroke="#94a7b2" stroke-width="0.8"/>
<rect x="851" y="321" width="8.7" height="7.9" rx="1" fill="#97aab5"/>
<path d="M860.8 321L873.5 310.5Q875 310 875 312V339.5Q875 341.5 873.5 341L860.8 329Z" fill="#97aab5"/>
<g transform="rotate(21.8 112.4 411.7)">
<rect x="103.2" y="387.7" width="18.4" height="48" rx="2.5" fill="#fff" stroke="#94a7b2" stroke-width="1.1"/>
<rect x="105" y="390" width="14.8" height="43" rx="1.5" fill="none" stroke="#94a7b2" stroke-width="0.6"/>
<path d="M106.5 394.5H118.5" stroke="#94a7b2" stroke-width="1.2" stroke-dasharray="2.5 1.2"/>
<path d="M106.5 397.1H118.5" stroke="#94a7b2" stroke-width="1.2" stroke-dasharray="2.5 1.2"/>
<path d="M106.5 399.7H118.5" stroke="#94a7b2" stroke-width="1.2" stroke-dasharray="2.5 1.2"/>
<path d="M106.5 402.3H118.5" stroke="#94a7b2" stroke-width="1.2" stroke-dasharray="2.5 1.2"/>
<circle cx="112.4" cy="408.5" r="3.8" fill="none" stroke="#94a7b2" stroke-width="1"/>
<circle cx="112.4" cy="408.5" r="1.5" fill="none" stroke="#94a7b2" stroke-width="0.7"/>
<path d="M106.5 415.5H118.5" stroke="#94a7b2" stroke-width="1.2" stroke-dasharray="2.5 1.2"/>
<path d="M106.5 418.1H118.5" stroke="#94a7b2" stroke-width="1.2" stroke-dasharray="2.5 1.2"/>
<path d="M106.5 420.7H118.5" stroke="#94a7b2" stroke-width="1.2" stroke-dasharray="2.5 1.2"/>
<path d="M106.5 423.3H118.5" stroke="#94a7b2" stroke-width="1.2" stroke-dasharray="2.5 1.2"/>
<path d="M106.5 425.9H118.5" stroke="#94a7b2" stroke-width="1.2" stroke-dasharray="2.5 1.2"/>
<path d="M109 431.5H116" stroke="#94a7b2" stroke-width="0.7"/>
</g>
<path d="M133.5 390.5Q135.5 393.5 134.5 397M136.3 389.5Q138.8 393.5 137.5 398M139.2 389Q142 393.5 140.5 398.5" fill="none" stroke="#a9b8c1" stroke-width="0.9"/>
<rect x="242.2" y="458" width="41.3" height="30" rx="3" fill="#fff" stroke="#94a7b2" stroke-width="1.3"/>
<path d="M243 460.3H283M243 466.1H283M243 471.9H283M243 477.7H283M243 483.5H283" stroke="#94a7b2" stroke-width="1.1"/>
<path d="M251.7 460.3V483.5M262.7 460.3V483.5M273.4 460.3V483.5" stroke="#94a7b2" stroke-width="1.1"/>
<path d="M243 459H283" stroke="#94a7b2" stroke-width="1.6"/>
<rect x="252" y="487.6" width="22.8" height="3.4" rx="1" fill="#97aab5"/>
<rect x="314.6" y="459.3" width="42.5" height="26.3" rx="1.5" fill="#fff" stroke="#94a7b2" stroke-width="1.2"/>
<rect x="318.2" y="461.2" width="35.8" height="21.6" fill="#fff" stroke="#94a7b2" stroke-width="1.2"/>
<path d="M318.5 471.9H353.8M335.4 461.5V482.5" stroke="#94a7b2" stroke-width="1.2"/>
<path d="M319 484.3H353" stroke="#94a7b2" stroke-width="0.8" stroke-dasharray="1.5 0.7"/>
<path d="M330.5 485.6V488M341.5 485.6V488" stroke="#94a7b2" stroke-width="1"/>
<rect x="323.3" y="487.5" width="23.8" height="2.2" rx="1" fill="#97aab5"/>
<rect x="385.6" y="461.6" width="54.2" height="26.6" rx="2" fill="#fff" stroke="#94a7b2" stroke-width="1.1"/>
<rect x="388" y="463.8" width="49.5" height="22.2" rx="1" fill="#fff" stroke="#94a7b2" stroke-width="1.1"/>
<path d="M388.5 474.4H437M412.5 464V485.5" stroke="#94a7b2" stroke-width="1.1"/>
<rect x="386" y="485.9" width="53.5" height="2.5" fill="#97aab5"/>
<rect x="388" y="490.3" width="49.8" height="2.5" rx="1" fill="#fff" stroke="#94a7b2" stroke-width="1"/>
<path d="M483.8 455.2C477 455.2 472.3 460 472.3 468V478C472.3 485 477 488.5 483.8 488.5C490.6 488.5 495.2 485 495.2 478V468C495.2 460 490.6 455.2 483.8 455.2Z" fill="#fff" stroke="#94a7b2" stroke-width="1.1" stroke-dasharray="6 0.8"/>
<path d="M472.5 473Q483.8 465 495 473" fill="none" stroke="#94a7b2" stroke-width="1.1"/>
<path d="M481 488V476.5Q481 473.8 483.8 473.8Q486.6 473.8 486.6 476.5V488" fill="none" stroke="#94a7b2" stroke-width="1.1"/>
<path d="M481.2 479H486.4" stroke="#94a7b2" stroke-width="0.8"/>
<rect x="512.2" y="449.8" width="16.2" height="33" rx="2" fill="#fff" stroke="#94a7b2" stroke-width="1.1"/>
<rect x="515" y="457.5" width="10.5" height="22.3" fill="#fff" stroke="#94a7b2" stroke-width="1.1"/>
<path d="M519.8 460.5V474.5M517.5 466.5L517.5 469L519.8 471M519.8 468L522.3 466V464.5" fill="none" stroke="#94a7b2" stroke-width="0.7"/>
<rect x="513.6" y="482.8" width="13" height="8.8" fill="#fff" stroke="#94a7b2" stroke-width="1.1"/>
<path d="M520 483V491.5" stroke="#94a7b2" stroke-width="0.9"/>
<rect x="552" y="445.3" width="30.2" height="37" fill="#fff" stroke="#b5c2ca" stroke-width="1"/>
<path d="M552.2 445V482.5M567 445V482.5" stroke="#94a7b2" stroke-width="1.8"/>
<path d="M552 479.8H582.2M552 482H582.2" stroke="#94a7b2" stroke-width="1.2"/>
<ellipse cx="559.3" cy="451.4" rx="3.8" ry="3.1" fill="none" stroke="#94a7b2" stroke-width="1.3"/>
<ellipse cx="559.3" cy="462.1" rx="3.8" ry="3.1" fill="none" stroke="#94a7b2" stroke-width="1.3"/>
<path d="M558.5 454.5V459M560.1 454.5V459" stroke="#94a7b2" stroke-width="0.7"/>
<rect x="570.3" y="447.5" width="9" height="17" fill="none" stroke="#94a7b2" stroke-width="1.3"/>
<rect x="630" y="473" width="3.2" height="16" fill="#97aab5"/>
<path d="M633 474Q645 467.5 657 467.6L655 475Q644 476.5 633 484.5Z" fill="#97aab5"/>
<path d="M634 477Q645 471 656 470.5M634 480Q645 474 655.5 473" fill="none" stroke="#dfe6ea" stroke-width="0.7"/>
<path d="M653.3 474.5Q654 467.7 660 467.7H663Q667.3 468 667.5 474.5Z" fill="#97aab5"/>
<path d="M654 474.8A13 12.8 0 0 0 647.6 486M667 474.8A13 12.8 0 0 1 673.4 486" fill="none" stroke="#94a7b2" stroke-width="1"/>
<rect x="647.3" y="484.6" width="26.4" height="3.3" fill="#97aab5"/>
<path d="M648 489.2H673" stroke="#94a7b2" stroke-width="1"/>
<path d="M649.5 489.5A11.2 11.2 0 0 0 671.5 489.5" fill="none" stroke="#94a7b2" stroke-width="1"/>
<path d="M648.5 489.2Q648.5 500 660.5 500Q672.5 500 672.5 489.2" fill="#fff" stroke="#94a7b2" stroke-width="1"/>
<path d="M726.3 476.5H767.6L762 482.3H726.3Z" fill="#fff" stroke="#94a7b2" stroke-width="1.2"/>
<rect x="727.8" y="482.3" width="34.3" height="4.8" fill="#fff" stroke="#94a7b2" stroke-width="1"/>
<path d="M734 482.5V487M757.5 482.5V487" stroke="#94a7b2" stroke-width="1"/>
<rect x="737.5" y="487" width="12.5" height="2.5" fill="#97aab5"/>
<rect x="737.6" y="489.5" width="12.2" height="10.2" fill="#fff" stroke="#94a7b2" stroke-width="1"/>
<rect x="788.6" y="461.4" width="29.6" height="36.8" rx="3" fill="#fff" stroke="#94a7b2" stroke-width="1.3"/>
<rect x="791.6" y="464" width="23.5" height="23" rx="0.5" fill="#fff" stroke="#94a7b2" stroke-width="1.3"/>
<rect x="791.8" y="491" width="6.8" height="3.3" fill="#fff" stroke="#94a7b2" stroke-width="1"/>
<circle cx="803" cy="492.2" r="1.3" fill="#97aab5"/>
</g><!--/icons-->
<path d="M857.5 467V480.3" stroke="#c5d0d8" stroke-width="1.2"/>
</svg>
</body></html>
